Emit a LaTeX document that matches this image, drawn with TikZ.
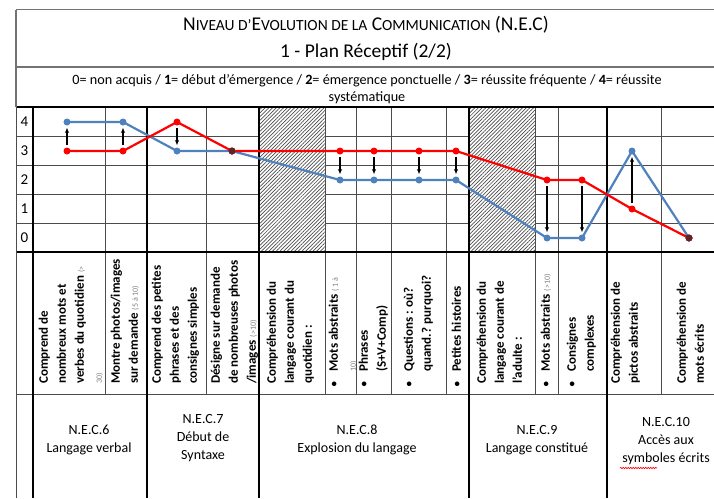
\documentclass[tikz,border=0pt]{standalone}
\usepackage{fontspec}
\setmainfont{Carlito}
\usetikzlibrary{patterns.meta,arrows.meta,decorations.pathmorphing}

\definecolor{rouge}{RGB}{255,0,0}
\definecolor{bleu}{RGB}{79,129,189}
\definecolor{brun}{RGB}{96,36,36}

\newcommand{\petit}[1]{{\fontsize{8}{9}\selectfont\mdseries\color{black!50}#1}}
\newcommand{\psc}[1]{{\fontsize{15.5}{18}\selectfont #1}}
\newcommand{\puce}{\makebox[16pt][l]{\mdseries •}}

\tikzset{
  grille/.style={line width=1pt,draw=black!70},
  epais/.style={line width=2pt,draw=black},
  bord/.style={line width=1.4pt,draw=black!55},
  hachure/.style={pattern={Lines[angle=45,distance=2.6pt,line width=0.7pt]},pattern color=black!70},
  courbeR/.style={line width=2.2pt,draw=rouge},
  courbeB/.style={line width=2.2pt,draw=bleu},
  ptR/.style={circle,fill=rouge,inner sep=0pt,minimum size=7pt},
  ptB/.style={circle,fill=bleu,inner sep=0pt,minimum size=7pt},
  ptX/.style={circle,fill=brun,inner sep=0pt,minimum size=7pt},
  ecart/.style={-{Latex[length=5pt,width=4.5pt]},line width=1.1pt,shorten <=2pt,shorten >=2pt},
  vlab/.style={rotate=90,anchor=north west,inner sep=0pt,align=left,font=\fontsize{13}{18}\selectfont\bfseries},
  nec/.style={align=center,font=\fontsize{14}{18}\selectfont},
  niveau/.style={font=\fontsize{15}{18}\selectfont}
}

\begin{document}
\begin{tikzpicture}[x=1pt,y=-1pt]
\useasboundingbox (0,0) rectangle (714,498);

% en-tete
\node (titre) at (366,25) {\fontsize{19.5}{22}\selectfont N\psc{IVEAU D’}E\psc{VOLUTION DE LA} C\psc{OMMUNICATION} (N.E.C)};
\node (plan) at (366,52) {\fontsize{19.5}{22}\selectfont 1 - Plan Réceptif (2/2)};
\node[align=center,font=\fontsize{14.2}{16.5}\selectfont] (legende) at (367,89) {0= non acquis / \textbf{1}= début d'émergence / \textbf{2}= émergence ponctuelle / \textbf{3}= réussite fréquente / \textbf{4}= réussite\\systématique};

% zones hachurees
\fill[hachure] (259,107) rectangle (325,252);
\fill[hachure] (469,107) rectangle (535,252);

% grille
\foreach \y in {136,165,194,223} {\draw[grille] (16,\y) -- (259,\y); \draw[grille] (325,\y) -- (469,\y); \draw[grille] (535,\y) -- (714,\y);}
\foreach \x in {105,206,325,356,391,446,535,558,661} \draw[grille] (\x,107) -- (\x,394);
\draw[grille] (16,394) -- (714,394);
\draw[epais] (16,107) -- (714,107); \draw[epais] (16,252) -- (714,252);
\foreach \x in {33,147,259,469,607} \draw[epais] (\x,107) -- (\x,498);
\draw[bord] (16,9.5) -- (714,9.5); \draw[bord] (16,67) -- (714,67);
\draw[bord] (16,9.5) -- (16,107); \draw[grille] (16,107) -- (16,498);

% niveaux
\foreach \v in {0,...,4} \node[niveau] (v\v) at (24.5,238-29*\v) {\v};

% points : rouge / bleu
\foreach \i/\x/\r/\b in {1/67/3/4,2/123/3/4,3/177/4/3,4/232/3/3,5/340/3/2,6/374/3/2,7/419/3/2,8/456/3/2,9/547/2/0,10/582/2/0,11/632/1/3,12/689/0/0}
  {\coordinate (r\i) at (\x,238-29*\r); \coordinate (b\i) at (\x,238-29*\b);}
\draw[courbeB] (b1) \foreach \i in {2,...,12} {-- (b\i)};
\draw[courbeR] (r1) \foreach \i in {2,...,12} {-- (r\i)};
\foreach \i in {1,...,12} {\node[ptB] (pb\i) at (b\i) {}; \node[ptR] (pr\i) at (r\i) {};}
\node[ptX] (px4) at (r4) {}; \node[ptX] (px12) at (r12) {};
\foreach \i in {1,2,3,5,6,7,8,9,10,11} \draw[ecart] (pr\i) -- (pb\i);

% items
\node[vlab] (t1) at (38.5,384) {Comprend de\\nombreux mots et\\verbes du quotidien \petit{(>}\\\petit{30)}};
\node[vlab] (t2) at (110.5,384) {Montre photos/images\\sur demande \petit{(5 à 10)}};
\node[vlab] (t3) at (151.5,384) {Comprend des petites\\phrases et des\\consignes simples};
\node[vlab] (t4) at (210.5,384) {Désigne sur demande\\de nombreuses photos\\/images \petit{(>10)}};
\node[vlab] (t5) at (266.5,384) {Compréhension du\\langage courant du\\quotidien :};
\node[vlab] (t6) at (328.5,388) {\puce Mots abstraits \petit{( 1 à}\\\hspace*{16pt}\petit{10)}};
\node[vlab] (t7) at (358.5,388) {\puce Phrases\\\hspace*{16pt}(S+V+Comp)};
\node[vlab] (t8) at (403.5,388) {\puce Questions : où?\\\hspace*{16pt}quand.? purquoi?};
\node[vlab] (t9) at (451.5,388) {\puce Petites histoires};
\node[vlab] (t10) at (476.5,384) {Compréhension du\\langage courant de\\l’adulte :};
\node[vlab] (t11) at (540.5,388) {\puce Mots abstraits \petit{(>10)}};
\node[vlab] (t12) at (566.5,388) {\puce Consignes\\\hspace*{16pt}complexes};
\node[vlab] (t13) at (610.5,384) {Compréhension de\\pictos abstraits};
\node[vlab] (t14) at (676.5,384) {Compréhension de\\mots écrits};

% niveaux N.E.C
\node[nec] (n6) at (89,440) {N.E.C.6\\Langage verbal};
\node[nec] (n7) at (203,438) {N.E.C.7\\Début de\\Syntaxe};
\node[nec] (n8) at (357,440) {N.E.C.8\\Explosion du langage};
\node[nec] (n9) at (537,440) {N.E.C.9\\Langage constitué};
\node[nec] (n10) at (666,441) {N.E.C.10\\Accès aux\\symboles écrits};
\draw[rouge,line width=0.6pt,decorate,decoration={snake,amplitude=0.7pt,segment length=2.5pt}] (620,468) -- (657,468);
\end{tikzpicture}
\end{document}
